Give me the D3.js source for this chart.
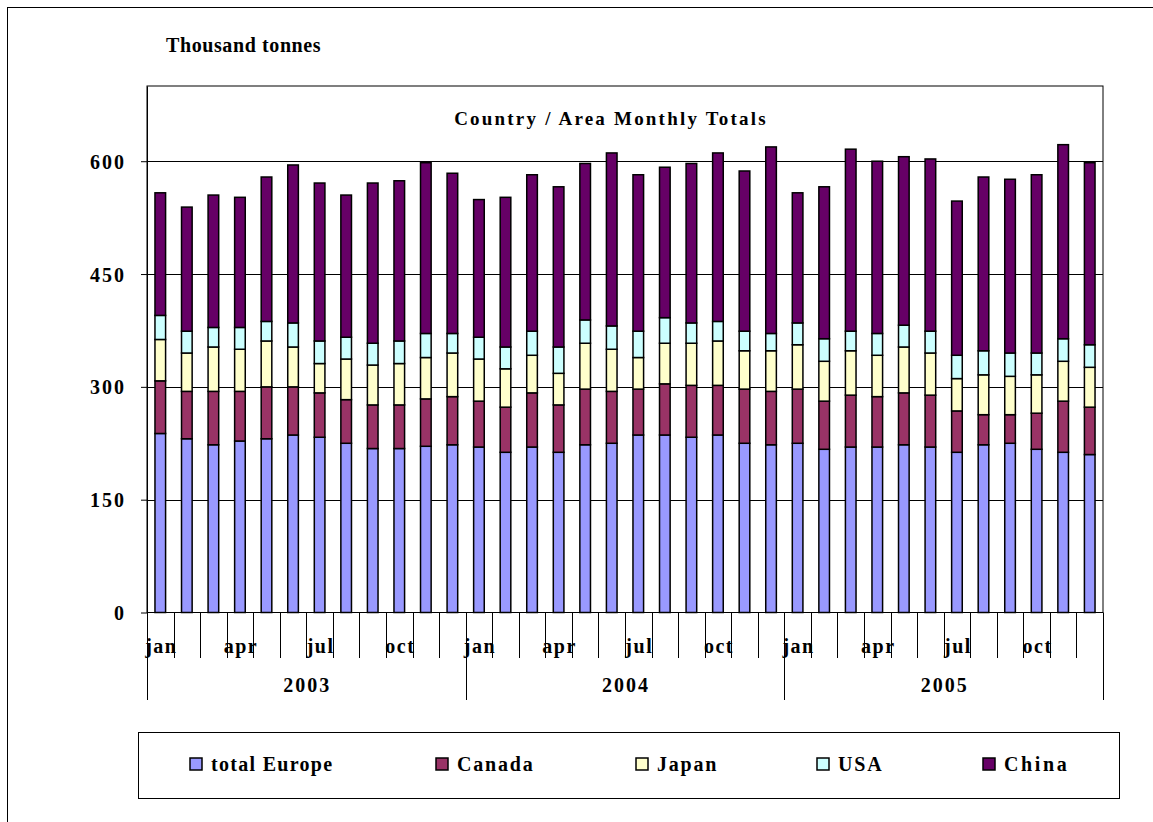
<!DOCTYPE html>
<html>
<head>
<meta charset="utf-8">
<script src="https://cdn.jsdelivr.net/npm/d3@7"></script>
<style>
  body { margin: 0; background: #fff; }
  svg text { font-family: "Liberation Serif", "Times New Roman", serif; font-weight: bold; fill: #000; }
</style>
</head>
<body>
<svg width="1153" height="822"></svg>
<script>
var years = ["2003", "2004", "2005"];
var monthLabels = ["jan", "", "", "apr", "", "", "jul", "", "", "oct", "", ""];
var seriesNames = ["total Europe", "Canada", "Japan", "USA", "China"];
var seriesColors = ["#9999ff", "#993366", "#ffffcc", "#ccffff", "#660066"];
var yTicks = [0, 150, 300, 450, 600];

// thousand tonnes, jan 2003 .. dec 2005
var europe = [238, 231, 223, 228, 231, 236, 233, 225, 218, 218, 221, 223,
              220, 213, 220, 213, 223, 225, 236, 236, 233, 236, 225, 223,
              225, 217, 220, 220, 223, 220, 213, 223, 225, 217, 213, 210];
var canada = [70, 63, 71, 66, 69, 64, 59, 58, 58, 58, 63, 64,
              61, 60, 72, 63, 74, 69, 61, 68, 69, 66, 72, 71,
              72, 64, 69, 67, 69, 69, 55, 40, 38, 48, 68, 63];
var japan  = [55, 51, 59, 56, 61, 53, 39, 54, 53, 55, 55, 58,
              56, 51, 50, 42, 61, 56, 42, 54, 56, 59, 51, 54,
              59, 53, 59, 55, 61, 56, 43, 53, 51, 51, 53, 53];
var usa    = [32, 29, 26, 29, 26, 32, 30, 29, 29, 30, 32, 26,
              29, 29, 32, 35, 31, 31, 35, 34, 27, 26, 26, 23,
              29, 30, 26, 29, 29, 29, 31, 32, 31, 29, 30, 30];
var china  = [163, 165, 176, 173, 192, 210, 210, 189, 213, 213, 227, 213,
              183, 199, 208, 213, 208, 230, 208, 200, 212, 224, 213, 248,
              173, 202, 242, 229, 224, 229, 205, 231, 231, 237, 258, 242];

var svg = d3.select("svg");

var margin = { left: 147, right: 1103, top: 86, bottom: 612.5 };

// one row per month
var rows = [];
years.forEach(function (yr, yi) {
  monthLabels.forEach(function (m, mi) {
    var i = yi * 12 + mi;
    rows.push({
      key: yr + "-" + mi, year: yr, label: m,
      "total Europe": europe[i], "Canada": canada[i], "Japan": japan[i],
      "USA": usa[i], "China": china[i]
    });
  });
});

var x = d3.scaleBand()
  .domain(rows.map(function (d) { return d.key; }))
  .range([margin.left, margin.right])
  .paddingInner(0.6)
  .paddingOuter(0.3);

var y = d3.scaleLinear().domain([0, 700]).range([margin.bottom, margin.top]);

var color = d3.scaleOrdinal().domain(seriesNames).range(seriesColors);

var stack = d3.stack().keys(seriesNames)(rows);

// outer frame
svg.append("rect")
  .attr("x", 7.5).attr("y", 7.5)
  .attr("width", 1170).attr("height", 840)
  .attr("fill", "none").attr("stroke", "#000").attr("stroke-width", 1);

svg.append("text")
  .attr("x", 166).attr("y", 52)
  .style("font-size", "20px")
  .style("letter-spacing", "0.6px")
  .text("Thousand tonnes");

// plot frame
svg.append("rect")
  .attr("x", margin.left).attr("y", margin.top)
  .attr("width", margin.right - margin.left).attr("height", margin.bottom - margin.top)
  .attr("fill", "none").attr("stroke", "#000").attr("stroke-width", 1);

// grid
svg.append("g").selectAll("line")
  .data(yTicks.filter(function (t) { return t > 0; }))
  .enter().append("line")
  .attr("x1", margin.left).attr("x2", margin.right)
  .attr("y1", function (d) { return Math.round(y(d)) + 0.5; })
  .attr("y2", function (d) { return Math.round(y(d)) + 0.5; })
  .attr("stroke", "#000").attr("stroke-width", 1);

// y axis
var yAxis = svg.append("g")
  .attr("transform", "translate(" + margin.left + ",0)")
  .call(d3.axisLeft(y).tickValues(yTicks).tickSizeInner(6).tickSizeOuter(0)
    .tickPadding(15).tickFormat(d3.format("d")));
yAxis.select(".domain").attr("stroke", "#000");
yAxis.selectAll("text")
  .style("font-size", "20px")
  .style("font-family", "Liberation Serif, serif")
  .style("font-weight", "bold")
  .style("letter-spacing", "2px")
  .attr("dy", "0.35em");

svg.append("text")
  .attr("x", 611).attr("y", 125)
  .attr("text-anchor", "middle")
  .style("font-size", "19px")
  .style("letter-spacing", "2.2px")
  .text("Country / Area Monthly Totals");

// bars
svg.append("g").selectAll("g")
  .data(stack)
  .enter().append("g")
  .attr("fill", function (d) { return color(d.key); })
  .selectAll("rect")
  .data(function (d) { return d; })
  .enter().append("rect")
  .attr("x", function (d) { return x(d.data.key); })
  .attr("width", x.bandwidth())
  .attr("y", function (d) { return y(d[1]); })
  .attr("height", function (d) { return y(d[0]) - y(d[1]); })
  .attr("stroke", "#000").attr("stroke-width", 1.5);

// x axis line
svg.append("line")
  .attr("x1", margin.left).attr("x2", margin.right)
  .attr("y1", margin.bottom).attr("y2", margin.bottom)
  .attr("stroke", "#000").attr("stroke-width", 1);

// month boundary ticks
var step = x.step();
var bounds = d3.range(rows.length + 1);
svg.append("g").selectAll("line")
  .data(bounds)
  .enter().append("line")
  .attr("x1", function (i) { return Math.round(margin.left + i * step) + 0.5; })
  .attr("x2", function (i) { return Math.round(margin.left + i * step) + 0.5; })
  .attr("y1", margin.bottom)
  .attr("y2", function (i) { return i % 12 === 0 ? 700 : 658; })
  .attr("stroke", "#000").attr("stroke-width", 1);

// month labels
svg.append("g").selectAll("text")
  .data(rows.filter(function (d) { return d.label !== ""; }))
  .enter().append("text")
  .attr("x", function (d) { return x(d.key) + x.bandwidth() / 2 + 1; })
  .attr("y", 653)
  .attr("text-anchor", "middle")
  .style("font-size", "20px")
  .style("letter-spacing", "1.5px")
  .text(function (d) { return d.label; });

// year labels
svg.append("g").selectAll("text")
  .data(years)
  .enter().append("text")
  .attr("x", function (d, i) { return margin.left + (i * 12 + 6) * step + 1; })
  .attr("y", 692)
  .attr("text-anchor", "middle")
  .style("font-size", "20px")
  .style("letter-spacing", "2px")
  .text(function (d) { return d; });

// legend
svg.append("rect")
  .attr("x", 138.5).attr("y", 732.5)
  .attr("width", 981).attr("height", 66)
  .attr("fill", "#fff").attr("stroke", "#000").attr("stroke-width", 1);

var legendX = [190, 436, 636, 817, 983];
var legendSpacing = [1.3, 1.8, 1.8, 1.8, 2.6];
var legend = svg.append("g").selectAll("g")
  .data(seriesNames)
  .enter().append("g")
  .attr("transform", function (d, i) { return "translate(" + legendX[i] + ",758)"; });
legend.append("rect")
  .attr("width", 12).attr("height", 12)
  .attr("fill", function (d) { return color(d); })
  .attr("stroke", "#000").attr("stroke-width", 1.5);
legend.append("text")
  .attr("x", 21).attr("y", 13)
  .style("font-size", "20px")
  .style("letter-spacing", function (d, i) { return legendSpacing[i] + "px"; })
  .text(function (d) { return d; });
</script>
</body>
</html>
